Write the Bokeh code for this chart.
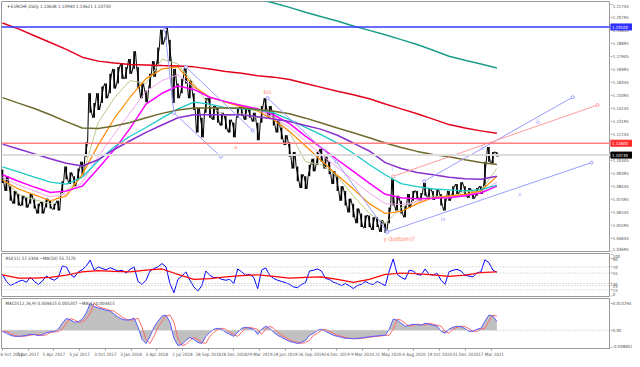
import numpy as np
from bokeh.plotting import figure
from bokeh.layouts import column, row
from bokeh.models import FixedTicker, Range1d, Label, Span, ColumnDataSource
from bokeh.core.properties import value
from bokeh.embed import file_html
from bokeh.resources import INLINE

# ---------------- data ----------------
# price samples (bar index), highs and lows
high = [1.0968, 1.0918, 1.0846, 1.0811, 1.0789, 1.0775, 1.0761, 1.0789, 1.0754, 1.0718,
        1.0732, 1.0754, 1.0739, 1.0718, 1.0739, 1.0882, 1.0989, 1.0946, 1.0918, 1.0975,
        1.1025, 1.1168, 1.1525, 1.1453, 1.1525, 1.1575, 1.1596, 1.1667, 1.1703, 1.1717,
        1.1739, 1.1717, 1.1775, 1.1832, 1.1717, 1.1596, 1.1546, 1.1667, 1.1760, 1.1860,
        1.1989, 1.2003, 1.1917, 1.1703, 1.1596, 1.1632, 1.1717, 1.1618, 1.1525, 1.1418,
        1.1346, 1.1489, 1.1489, 1.1432, 1.1418, 1.1382, 1.1360, 1.1332, 1.1310, 1.1418,
        1.1432, 1.1418, 1.1403, 1.1382, 1.1310, 1.1432, 1.1489, 1.1432, 1.1382, 1.1332,
        1.1275, 1.1218, 1.1168, 1.1096, 1.0989, 1.0932, 1.0918, 1.1003, 1.1046, 1.1096,
        1.1118, 1.1061, 1.1025, 1.0954, 1.0918, 1.0846, 1.0811, 1.0754, 1.0718, 1.0682,
        1.0646, 1.0632, 1.0632, 1.0618, 1.0618, 1.0597, 1.0575, 1.0689, 1.0896, 1.0775,
        1.0739, 1.0704, 1.0789, 1.0811, 1.0811, 1.0796, 1.0868, 1.0832, 1.0811, 1.0825,
        1.0789, 1.0754, 1.0811, 1.0846, 1.0861, 1.0875, 1.0846, 1.0832, 1.0811, 1.0832,
        1.0846, 1.1025, 1.1132, 1.1096, 1.1094]
low = [1.0868, 1.0811, 1.0739, 1.0718, 1.0704, 1.0704, 1.0689, 1.0718, 1.0682, 1.0646,
       1.0646, 1.0689, 1.0682, 1.0675, 1.0668, 1.0796, 1.0896, 1.0861, 1.0846, 1.0889,
       1.0932, 1.1061, 1.1382, 1.1346, 1.1403, 1.1453, 1.1489, 1.1525, 1.1560, 1.1596,
       1.1632, 1.1632, 1.1667, 1.1703, 1.1560, 1.1489, 1.1460, 1.1560, 1.1646, 1.1739,
       1.1882, 1.1917, 1.1760, 1.1453, 1.1489, 1.1525, 1.1596, 1.1489, 1.1403, 1.1239,
       1.1203, 1.1382, 1.1346, 1.1332, 1.1310, 1.1289, 1.1261, 1.1239, 1.1203, 1.1346,
       1.1360, 1.1332, 1.1346, 1.1318, 1.1182, 1.1310, 1.1403, 1.1346, 1.1289, 1.1239,
       1.1189, 1.1146, 1.1061, 1.0975, 1.0882, 1.0832, 1.0825, 1.0918, 1.0954, 1.1003,
       1.1025, 1.0975, 1.0932, 1.0861, 1.0811, 1.0739, 1.0704, 1.0654, 1.0618, 1.0575,
       1.0547, 1.0539, 1.0547, 1.0525, 1.0547, 1.0511, 1.0504, 1.0575, 1.0704, 1.0668,
       1.0646, 1.0618, 1.0689, 1.0739, 1.0754, 1.0739, 1.0775, 1.0761, 1.0746, 1.0761,
       1.0704, 1.0668, 1.0739, 1.0775, 1.0789, 1.0804, 1.0775, 1.0761, 1.0754, 1.0775,
       1.0789, 1.0846, 1.1025, 1.1011, 1.1062]

# moving averages sampled every 4th bar
ma_step = 4
ma_red = [1.2039, 1.1996, 1.1946, 1.1896, 1.1846, 1.1789, 1.1760, 1.1746, 1.1735, 1.1732,
          1.1728, 1.1725, 1.1718, 1.1703, 1.1685, 1.1671, 1.1653, 1.1643, 1.1625, 1.1596,
          1.1568, 1.1539, 1.1514, 1.1485, 1.1446, 1.1411, 1.1375, 1.1336, 1.1296, 1.1271,
          1.1250, 1.1232]
ma_teal_start = 60
ma_teal = [1.2253, 1.2217, 1.2185, 1.2153, 1.2117, 1.2085, 1.2053, 1.2017, 1.1985, 1.1953,
           1.1917, 1.1882, 1.1839, 1.1796, 1.1767, 1.1739, 1.1710]
ma_olive = [1.1493, 1.1453, 1.1414, 1.1368, 1.1318, 1.1271, 1.1268, 1.1286, 1.1311, 1.1346,
            1.1378, 1.1403, 1.1418, 1.1418, 1.1418, 1.1418, 1.1407, 1.1393, 1.1375, 1.1343,
            1.1307, 1.1271, 1.1236, 1.1200, 1.1161, 1.1128, 1.1100, 1.1078, 1.1061, 1.1039,
            1.1018, 1.1004]
ma_purple = [1.1153, 1.1118, 1.1082, 1.1046, 1.1014, 1.0993, 1.1039, 1.1114, 1.1178, 1.1239,
             1.1293, 1.1346, 1.1368, 1.1368, 1.1368, 1.1368, 1.1353, 1.1336, 1.1318, 1.1289,
             1.1261, 1.1218, 1.1161, 1.1103, 1.1018, 1.0975, 1.0946, 1.0929, 1.0911, 1.0900,
             1.0896, 1.0918]
ma_cyan = [1.0986, 1.0950, 1.0911, 1.0875, 1.0861, 1.0911, 1.1032, 1.1132, 1.1211, 1.1275,
           1.1343, 1.1411, 1.1460, 1.1446, 1.1418, 1.1411, 1.1403, 1.1382, 1.1332, 1.1275,
           1.1221, 1.1161, 1.1086, 1.1004, 1.0929, 1.0864, 1.0843, 1.0825, 1.0818, 1.0811,
           1.0821, 1.0854]
ma_magenta = [1.0929, 1.0882, 1.0839, 1.0800, 1.0811, 1.0846, 1.0975, 1.1111, 1.1268, 1.1446,
              1.1525, 1.1578, 1.1553, 1.1496, 1.1464, 1.1435, 1.1411, 1.1368, 1.1303, 1.1211,
              1.1125, 1.1039, 1.0954, 1.0868, 1.0786, 1.0761, 1.0754, 1.0757, 1.0761, 1.0775,
              1.0796, 1.0846]
ma_orange = [1.0889, 1.0825, 1.0782, 1.0739, 1.0775, 1.0932, 1.1146, 1.1339, 1.1496, 1.1632,
             1.1703, 1.1718, 1.1575, 1.1496, 1.1460, 1.1425, 1.1396, 1.1332, 1.1246, 1.1139,
             1.1032, 1.0925, 1.0825, 1.0718, 1.0646, 1.0661, 1.0718, 1.0761, 1.0775, 1.0786,
             1.0811, 1.0918]
ma_lgreen = [1.0904, 1.0789, 1.0746, 1.0718, 1.0811, 1.0918, 1.1311, 1.1489, 1.1618, 1.1596,
             1.1775, 1.1739, 1.1596, 1.1432, 1.1360, 1.1375, 1.1346, 1.1360, 1.1239, 1.1025,
             1.1004, 1.0918, 1.0775, 1.0646, 1.0575, 1.0689, 1.0739, 1.0775, 1.0761, 1.0804,
             1.0811, 1.0975]
ma_lpink = [1.0911, 1.0854, 1.0811, 1.0768, 1.0789, 1.0875, 1.1061, 1.1225, 1.1382, 1.1539,
            1.1618, 1.1660, 1.1568, 1.1496, 1.1460, 1.1432, 1.1403, 1.1346, 1.1275, 1.1175,
            1.1075, 1.0982, 1.0889, 1.0796, 1.0718, 1.0711, 1.0732, 1.0761, 1.0768, 1.0782,
            1.0804, 1.0875]

# horizontal levels
level_blue = 1.2010
level_red = 1.1160
last_close = 1.1073
price_tags = [(level_blue, "1.20100", "#2f2fff"), (level_red, "1.11600", "#ff2a2a"),
              (last_close, "1.10730", "#000000")]

# drawn trend lines: (bar index list, price list)
blue_lines = [
    ([46, 62.75], [1.1717, 1.1253]),
    ([40.75, 43, 54.75], [1.1989, 1.1382, 1.1061]),
    ([66.5, 83.75, 96.5], [1.1489, 1.1025, 1.0511]),
    ([96.5, 147.75], [1.0511, 1.1018]),
    ([105.75, 143], [1.0882, 1.1496]),
]
pink_line = ([98, 149.25], [1.0918, 1.1439])
wave_labels = [("b/s", 66.5, 1.1539, "#ff8a6a"), ("a", 58.5, 1.1139, "#ff8a6a"),
               ("y (bottom)?", 99.5, 1.0461, "#ff8a6a"), ("i", 97.75, 1.0975, "#9aa0ff"),
               ("ii", 120.25, 1.1125, "#9aa0ff"), ("iii", 134.25, 1.1318, "#9aa0ff"),
               ("iv", 110.5, 1.0611, "#9aa0ff"), ("v", 129.75, 1.0789, "#9aa0ff")]

price_ticks = [1.21745, 1.20795, 1.19845, 1.18895, 1.17945, 1.16995, 1.16045, 1.15095,
               1.14145, 1.13195, 1.12245, 1.10345, 1.09395, 1.08445, 1.07495,
               1.06545, 1.05595, 1.04645, 1.03695]

rsi = [52, 35, 25, 30, 35, 38, 33, 45, 35, 28, 36, 48, 42, 38, 45,
       72, 70, 52, 45, 58, 63, 72, 86,
       62, 70, 66, 63, 68, 64, 60, 62, 55, 64, 70,
       35, 28, 38, 60, 66, 70, 78, 70,
       30, 8, 40, 48, 58, 38, 22, 12, 25,
       60, 50, 44, 45, 40, 38, 40, 30,
       65, 58, 50, 52, 45, 18, 62, 68,
       50, 42, 38, 35, 32, 28, 22, 20, 28, 32,
       60, 62, 65, 60, 42, 40, 33, 30, 25, 30,
       25, 18, 25, 28, 35, 30, 28, 35, 30, 25,
       60, 89, 52, 45, 40,
       62, 60, 52, 50, 65, 52, 50, 55, 38, 28,
       58, 62, 64, 60, 50, 48, 46, 56, 58,
       87, 80, 62, 57]
rsi_ma = [51, 43, 43, 45, 50, 58, 61, 59, 58, 62, 65, 52, 40, 42, 46, 49,
          51, 47, 43, 45, 46, 40, 33, 40, 52, 55, 54, 51, 47, 50, 56, 58]
rsi_levels = [70, 55, 30, 25, 15]
rsi_ticks = [100, 90, 70, 55, 30, 25, 15, 0]

macd_milli = [-0.5, -1.5, -2.5, -3.0, -3.0, -2.8, -2.5, -2.0, -2.2, -2.6,
              -2.2, -1.2, -0.8, -0.6, 0.5, 3.5, 5.8, 5.2, 4.0, 4.2,
              5.5, 8.5, 13.3, 11.8, 11.0, 10.5, 9.8, 9.5, 8.0, 6.5,
              5.5, 5.0, 5.2, 6.0, 1.5, -4.5, -6.5, -3.0, 1.5, 4.5,
              7.0, 7.5, 4.0, -4.0, -7.5, -7.0, -5.0, -3.5, -4.5, -6.0,
              -6.5, -3.0, -1.0, 0.5, 1.0, 0.5, -1.0, -2.0, -3.0, -1.0,
              1.0, 1.5, 1.0, 0.5, -2.0, 0.5, 2.0, 1.0, -1.0, -2.5,
              -3.5, -4.5, -5.5, -6.0, -6.5, -6.0, -5.0, -2.5, -1.5, 0.0,
              0.5, -0.5, -1.5, -2.5, -3.0, -3.5, -4.0, -4.0, -4.2, -4.0,
              -3.8, -3.5, -3.2, -3.0, -2.8, -2.5, -2.5, 0.5, 5.5, 5.0,
              3.5, 2.0, 2.5, 3.0, 2.8, 2.5, 3.5, 3.0, 2.5, 2.0,
              -0.5, -1.5, 0.5, 1.5, 2.0, 1.8, 0.8, -0.5, -0.5, 0.5,
              1.0, 4.5, 7.5, 7.0, 4.4]
macd_tick_vals = [0.013294, 0.0, -0.0086]
macd_tick_labels = ["0.013294", "0.00", "-0.008602"]

date_labels = ["6 Oct 2016", "5 Jan 2017", "5 Apr 2017", "5 Jul 2017", "3 Oct 2017",
               "3 Jan 2018", "3 Apr 2018", "2 Jul 2018", "28 Sep 2018", "28 Dec 2018",
               "29 Mar 2019", "28 Jun 2019", "26 Sep 2019", "24 Dec 2019", "9 Mar 2020",
               "21 May 2020", "4 Aug 2020", "19 Oct 2020", "31 Dec 2020", "17 Mar 2021"]
date_tick_every = 6.45

header = "\u25be EURCHF,Daily  1.10638 1.10940 1.10621 1.10730"
rsi_title = "RSI(11) 57.3304  ~MA(50) 55.7170"
macd_title = "MACD(12,26,9) 0.004415 0.005207  ~MA(1) 0.004415"

# ---------------- layout ----------------
W = 632
RB = 22
FW = W - 1 - RB
FONT = "Liberation Sans Narrow, DejaVu Sans Condensed, Liberation Sans, sans-serif"
LAB = "4.3px"
DLAB = "4.5px"
TITLE = "4.5px"
TXT = "#555555"
GRID = "#9a9a9a"
n = len(high)
idx = np.arange(n)
ma_idx = np.arange(0, n, ma_step)
x_range = Range1d(-0.25, 152.5)


def panel(frame_h, y_range, bottom=1):
    f = figure(frame_width=FW, frame_height=frame_h, x_range=x_range, y_range=y_range,
               output_backend="svg", toolbar_location=None, y_axis_location=None,
               min_border_left=1, min_border_right=0, min_border_top=1,
               min_border_bottom=bottom)
    f.xgrid.visible = False
    f.ygrid.visible = False
    f.outline_line_color = GRID
    f.background_fill_color = "white"
    f.border_fill_color = "white"
    return f


def side(frame_h, y_range, ticks, labels, tags=(), bottom=1):
    s = figure(frame_width=RB, frame_height=frame_h, x_range=Range1d(0, RB), y_range=y_range,
               output_backend="svg", toolbar_location=None, x_axis_location=None,
               y_axis_location=None, min_border_left=0, min_border_right=0,
               min_border_top=1, min_border_bottom=bottom)
    s.xgrid.visible = False
    s.ygrid.visible = False
    s.outline_line_color = None
    s.border_fill_color = "white"
    span = y_range.end - y_range.start
    base_line = []
    for t in ticks:
        if y_range.end - t < 0.03 * span:
            base_line.append("top")
        elif t - y_range.start < 0.03 * span:
            base_line.append("bottom")
        else:
            base_line.append("middle")
    src = ColumnDataSource(dict(y=ticks, text=labels, bl=base_line))
    s.segment(x0=0, x1=2, y0="y", y1="y", source=src, line_color=GRID, line_width=1)
    s.text(x=2.2, y="y", text="text", source=src, text_font_size=LAB, text_font=value(FONT),
           text_color=TXT, text_baseline="bl")
    for lvl, txt, bg in tags:
        s.rect(x=RB / 2, y=lvl, width=RB, height=6, height_units="screen",
               fill_color=bg, line_color=bg)
        s.text(x=[1.5], y=[lvl], text=[txt], text_font_size=LAB, text_font=value(FONT),
               text_color="white", text_baseline="middle")
    return s


# main price panel
p = panel(250, Range1d(1.0368, 1.2196))
p.xaxis.visible = False

p.add_layout(Span(location=level_blue, dimension="width", line_color="#3a3aff", line_width=1.5))
p.add_layout(Span(location=level_red, dimension="width", line_color="#ff8080", line_width=1.5))
p.add_layout(Span(location=last_close, dimension="width", line_color="#dcdcdc", line_width=2))

# candles as high-low bars plus a zigzag
p.segment(x0=idx, y0=low, x1=idx, y1=high, line_color="black", line_width=1.6)
zx, zy = [], []
for i in range(n):
    a, b = (high[i], low[i]) if i % 2 == 0 else (low[i], high[i])
    zx += [i - 0.35, i + 0.35]
    zy += [a, b]
p.line(zx, zy, line_color="black", line_width=1)

ma_style = [(ma_lgreen, "#b8c98c", 1), (ma_lpink, "#f3a6ef", 1), (ma_orange, "#ff8c00", 1.2),
            (ma_magenta, "#ff00ff", 1.5), (ma_cyan, "#1ec8c8", 1.3), (ma_purple, "#8a2fd0", 1.5),
            (ma_olive, "#6e6a2c", 1.5), (ma_red, "#e3001b", 1.5)]
for vals, col, lw in ma_style:
    p.line(ma_idx, vals, line_color=col, line_width=lw)
p.line(np.arange(ma_teal_start, n, ma_step), ma_teal, line_color="#1a9c8a", line_width=1.5)

for xs, ys in blue_lines:
    p.line(xs, ys, line_color="#9a9cff", line_width=1)
    p.scatter(xs, ys, size=3, marker="circle", line_color="#9a9cff", fill_color="white")
p.line(pink_line[0], pink_line[1], line_color="#ff9c9c", line_width=1)
p.scatter(pink_line[0], pink_line[1], size=3, line_color="#ff9c9c", fill_color="white")

for t, x, y, c in wave_labels:
    p.add_layout(Label(x=x, y=y, text=t, text_color=c, text_font_size="6px",
                       text_font=FONT, text_align="center", text_baseline="middle"))

p.add_layout(Label(x=x_range.start, y=1.2196, text=header, x_offset=6, y_offset=-2,
                   text_baseline="top", text_font_size=TITLE, text_font=FONT,
                   text_color="#404040"))
ps = side(250, p.y_range, price_ticks, ["%.5f" % t for t in price_ticks], price_tags)

# RSI panel
r = panel(43, Range1d(-1, 102))
r.xaxis.visible = False
for lv in rsi_levels:
    r.add_layout(Span(location=lv, dimension="width", line_color="#bcbcbc",
                      line_dash="1 2", line_width=1))
r.line(idx, rsi, line_color="#0000ff", line_width=1)
r.line(ma_idx, rsi_ma, line_color="#ff0000", line_width=1.2)
r.add_layout(Label(x=x_range.start, y=102, text=rsi_title, x_offset=4, y_offset=-2,
                   text_baseline="top", text_font_size=TITLE, text_font=FONT,
                   text_color="#404040"))
rs = side(43, r.y_range, rsi_ticks, [str(t) for t in rsi_ticks])

# MACD panel
macd = np.array(macd_milli) / 1000.0
signal = np.concatenate([[macd[0]], macd[:-1]])
m = panel(50, Range1d(-0.0090, 0.0157), bottom=11)
m.add_layout(Span(location=0, dimension="width", line_color="#bcbcbc",
                  line_dash="1 2", line_width=1))
m.varea(x=idx, y1=np.zeros(n), y2=macd, fill_color="#c0c0c0")
m.line(idx, signal, line_color="#ff6a6a", line_width=1)
m.line(idx, macd, line_color="#5a5aff", line_width=1)
m.add_layout(Label(x=x_range.start, y=0.0157, text=macd_title, x_offset=4, y_offset=-2,
                   text_baseline="top", text_font_size=TITLE, text_font=FONT,
                   text_color="#404040"))
xt = [k * date_tick_every for k in range(len(date_labels))]
xa = m.xaxis[0]
xa.ticker = FixedTicker(ticks=xt)
xa.major_label_overrides = {t: lab for t, lab in zip(xt, date_labels)}
xa.major_label_text_font_size = DLAB
xa.major_label_text_font = FONT
xa.major_label_text_color = TXT
xa.major_label_text_align = "left"
xa.major_label_standoff = 1
xa.major_tick_out = 2
xa.major_tick_in = 0
xa.minor_tick_out = 0
xa.minor_tick_in = 0
xa.axis_line_color = GRID
xa.major_tick_line_color = GRID
ms = side(50, m.y_range, macd_tick_vals, macd_tick_labels, bottom=11)

layout = column(row(p, ps, spacing=0), row(r, rs, spacing=0), row(m, ms, spacing=0),
                spacing=0)
open("out.html", "w").write(file_html(layout, INLINE))
